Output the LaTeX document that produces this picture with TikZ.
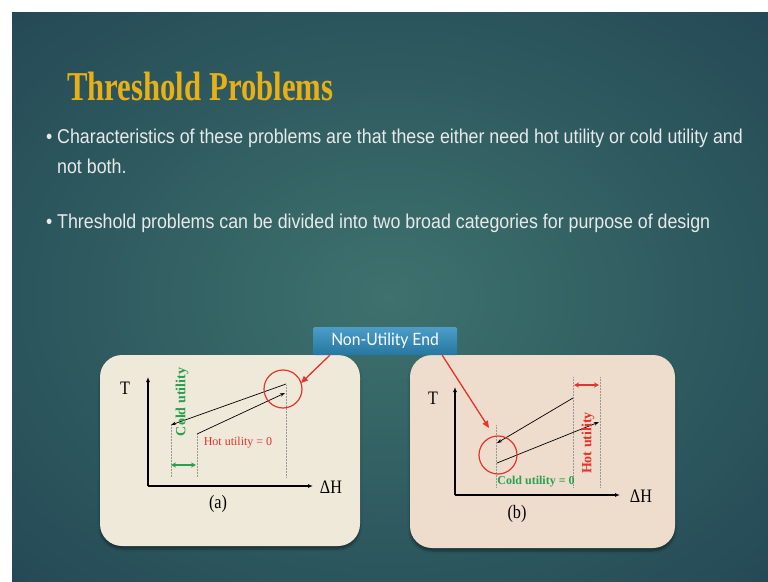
\documentclass[tikz,border=0pt]{standalone}
\usepackage{fontspec}
\setmainfont{Liberation Sans}[FakeStretch=0.89]
\newfontfamily\titlefont{Liberation Serif}[FakeStretch=0.75]
\newfontfamily\plotfont{Liberation Serif}[FakeStretch=0.85]
\newfontfamily\notefont{Liberation Serif}
\newfontfamily\calloutfont{Lato}[FakeStretch=0.92]
\usepackage{tikz}
\usetikzlibrary{arrows.meta,positioning,calc,shadows.blur}
\definecolor{bginner}{RGB}{62,114,110}
\definecolor{bgmid}{RGB}{45,88,94}
\definecolor{bgouter}{RGB}{28,58,78}
\definecolor{titlegold}{RGB}{232,176,22}
\definecolor{slidetext}{RGB}{232,234,234}
\definecolor{panelcream}{RGB}{239,233,218}
\definecolor{panelrose}{RGB}{238,221,204}
\definecolor{hotred}{RGB}{228,52,44}
\definecolor{coldgreen}{RGB}{40,160,80}
\definecolor{calloutblue}{RGB}{44,140,190}
\pgfdeclareradialshading{slidebg}{\pgfpoint{0bp}{0bp}}{color(0bp)=(bginner); color(22bp)=(bgmid); color(50bp)=(bgouter)}
\tikzset{
  slidetitle/.style={font=\titlefont\bfseries\fontsize{41}{48}\selectfont,text=titlegold,inner sep=0pt},
  bulletline/.style={font=\fontsize{20}{30}\selectfont,text=slidetext,inner sep=0pt},
  panel/.style={rounded corners=22pt,blur shadow={shadow xshift=0pt,shadow yshift=-3pt,shadow blur steps=6}},
  axis/.style={-{Latex[length=5pt,width=4pt]},line width=1.1pt},
  stream/.style={-{Stealth[length=5pt,width=3.5pt]},line width=0.7pt},
  guide/.style={densely dotted,line width=0.5pt,draw=gray!80},
  endring/.style={draw=hotred,line width=1.2pt},
  span/.style={{Stealth[length=5pt,width=5pt]}-{Stealth[length=5pt,width=5pt]},line width=1.3pt},
  plotlabel/.style={font=\plotfont\fontsize{19}{22}\selectfont,inner sep=0pt},
  smalllabel/.style={font=\notefont\fontsize{12}{14}\selectfont,inner sep=0pt},
  boldlabel/.style={font=\notefont\bfseries\fontsize{12}{14}\selectfont,inner sep=0pt},
  sidelabel/.style={font=\notefont\bfseries\fontsize{14}{16}\selectfont,inner sep=0pt,rotate=90},
  callout/.style={top color=calloutblue!85!white,bottom color=calloutblue!85!black,rounded corners=1.5pt,
    minimum width=144pt,minimum height=28pt,inner sep=0pt,text=white,font=\calloutfont\fontsize{17}{20}\selectfont},
  pointer/.style={-{Triangle[length=7pt,width=6pt]},line width=1.3pt,draw=hotred,fill=hotred}
}
\begin{document}
\begin{tikzpicture}[x=1pt,y=-1pt]
  \useasboundingbox (0,0) rectangle (768,581);
  \fill[white] (0,0) rectangle (768,581);
  \shade[shading=slidebg] (12,12) rectangle (768,581);

  % heading and bullets
  \node[slidetitle,anchor=base west] (title) at (67,100) {Threshold Problems};
  \node[bulletline,anchor=base west] (dot1) at (46,143) {•};
  \node[bulletline,anchor=base west] (txt1) at (57,143)
    {Characteristics of these problems are that these either need hot utility or cold utility and};
  \node[bulletline,anchor=base west] (txt1b) at (57,173) {not both.};
  \node[bulletline,anchor=base west] (dot2) at (46,228) {•};
  \node[bulletline,anchor=base west] (txt2) at (57,228)
    {Threshold problems can be divided into two broad categories for purpose of design};

  % the two panels
  \fill[panel,fill=panelcream] (100,355) rectangle (360,546);
  \fill[panel,fill=panelrose] (410,355) rectangle (675,548);

  % panel (a): hot utility = 0
  \coordinate (aO) at (148,486);
  \coordinate (aY) at (148,377);
  \coordinate (aX) at (313,486);
  \draw[axis] (aO) -- (aY);
  \draw[axis] (aO) -- (aX);
  \node[plotlabel] (aT) at (125,388) {T};
  \node[plotlabel] (aH) at (331,487) {ΔH};
  \node[plotlabel] (acap) at (218,504) {(a)};
  \foreach \x/\ytop in {171/425,197/434,286/385}{
    \draw[guide] (\x,\ytop) -- (\x,477);
  }
  \coordinate (ahot1) at (286,384);
  \coordinate (ahot2) at (171,425);
  \coordinate (acold1) at (197,434);
  \coordinate (acold2) at (285,393);
  \draw[stream] (ahot1) -- (ahot2);
  \draw[stream] (acold1) -- (acold2);
  \draw[endring] (283,389) circle[radius=19];
  \coordinate (aspan1) at (171,465);
  \coordinate (aspan2) at (196,465);
  \draw[span,draw=coldgreen,fill=coldgreen] (aspan1) -- (aspan2);
  \node[sidelabel,text=coldgreen] (acu) at (182,402) {Cold utility};
  \node[smalllabel,text=hotred] (ahu) at (238,443) {Hot utility = 0};

  % panel (b): cold utility = 0
  \coordinate (bO) at (455,495);
  \coordinate (bY) at (455,387);
  \coordinate (bX) at (620,495);
  \draw[axis] (bO) -- (bY);
  \draw[axis] (bO) -- (bX);
  \node[plotlabel] (bT) at (433,398) {T};
  \node[plotlabel] (bH) at (641,496) {ΔH};
  \node[plotlabel] (bcap) at (517,514) {(b)};
  \foreach \x/\ytop in {496/425,573/377,600/377}{
    \draw[guide] (\x,\ytop) -- (\x,487);
  }
  \coordinate (bhot1) at (573,398);
  \coordinate (bhot2) at (497,443);
  \coordinate (bcold1) at (497,463);
  \coordinate (bcold2) at (599,422);
  \draw[stream] (bhot1) -- (bhot2);
  \draw[stream] (bcold1) -- (bcold2);
  \draw[endring] (498,455) circle[radius=19];
  \coordinate (bspan1) at (574,385);
  \coordinate (bspan2) at (599,385);
  \draw[span,draw=hotred,fill=hotred] (bspan1) -- (bspan2);
  \node[sidelabel,text=hotred] (bhu) at (588,443) {Hot utility};
  \node[boldlabel,text=coldgreen] (bcu) at (536,482) {Cold utility = 0};

  % callout pointing at both non-utility ends
  \node[callout] (nue) at (385,341) {Non-Utility End};
  \coordinate (ringa) at (301,383);
  \coordinate (ringb) at (489,428);
  \draw[pointer] ($(nue.south west)+(17,0)$) -- (ringa);
  \draw[pointer] ($(nue.south east)+(-15,0)$) -- (ringb);
\end{tikzpicture}
\end{document}
